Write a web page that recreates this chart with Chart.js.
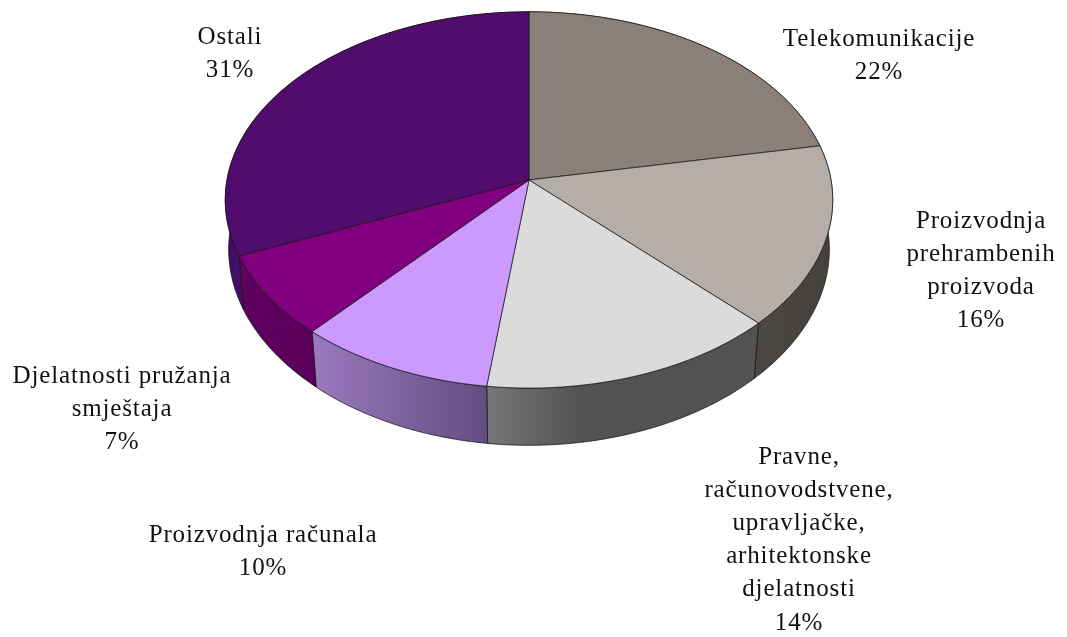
<!DOCTYPE html>
<html><head><meta charset="utf-8">
<script src="https://cdn.jsdelivr.net/npm/chart.js@4/dist/chart.umd.min.js"></script>
<style>html,body{margin:0;padding:0;background:#fff}canvas{display:block}</style>
</head><body><canvas id="c" width="1067" height="637"></canvas>
<script>
const categories = ['Telekomunikacije','Proizvodnja prehrambenih proizvoda','Pravne, računovodstvene, upravljačke, arhitektonske djelatnosti','Proizvodnja računala','Djelatnosti pružanja smještaja','Ostali'];
const values = [22,15.6,14.4,9.5,7.1,31.4];
const labelLines = [['Telekomunikacije'],['Proizvodnja','prehrambenih','proizvoda'],['Pravne,','računovodstvene,','upravljačke,','arhitektonske','djelatnosti'],['Proizvodnja računala'],['Djelatnosti pružanja','smještaja'],['Ostali']];
const topColors = ['#8b7f79','#b5aea8','#dbdbdb','#cc99ff','#800080','#520c6e'];
const wallFrom = ['#6f6660','#4a4743','#767676','#9a7abf','#5f005f','#420f66'];
const wallTo = ['#6f6660','#45413d','#525252','#634d80','#5a005a','#420f66'];
const labelX = [879,981,799,263,122,230];
const labelY = [39,221,457,535,376,37];
const LINE_H = 33.2;
const CX=529, CY=180, A=302, B=186, K=-0.106, FONT='25px "Liberation Serif"', SPACING='0.85px';
function rim(a,bottom){
  const ux=Math.cos(a), uy=Math.sin(a), d=1+K*uy;
  let X=A*ux/d, Y=B*uy/d;
  if(bottom){X*=0.99-0.00006*Math.abs(Y); Y+=51+0.03*Y;}
  return [CX+X,CY+Y];
}
function arcPts(s,e,bottom){
  const n=Math.max(2,Math.ceil((e-s)/0.01)),p=[];
  for(let i=0;i<=n;i++)p.push(rim(s+(e-s)*i/n,bottom));
  return p;
}
const pie3d={id:'pie3d',
  beforeDatasetsDraw(chart){
    const ctx=chart.ctx, arcs=chart.getDatasetMeta(0).data;
    ctx.save(); ctx.lineJoin='round';
    arcs.forEach((el,i)=>{
      const t=arcPts(el.startAngle,el.endAngle,false), b=arcPts(el.startAngle,el.endAngle,true);
      const xs=t.concat(b).map(p=>p[0]), x0=Math.min(...xs), x1=Math.max(...xs);
      const g=ctx.createLinearGradient(x0,0,x1,0);
      g.addColorStop(0,wallFrom[i]);
      g.addColorStop(i===2?0.35:1,wallTo[i]);
      g.addColorStop(1,wallTo[i]);
      ctx.beginPath();
      t.forEach((p,j)=>j?ctx.lineTo(p[0],p[1]):ctx.moveTo(p[0],p[1]));
      b.reverse().forEach(p=>ctx.lineTo(p[0],p[1]));
      ctx.closePath();
      ctx.fillStyle=g; ctx.fill();
      ctx.strokeStyle='rgba(20,20,20,0.75)'; ctx.lineWidth=1; ctx.stroke();
    });
    arcs.forEach((el,i)=>{
      const t=arcPts(el.startAngle,el.endAngle,false);
      ctx.beginPath(); ctx.moveTo(CX,CY);
      t.forEach(p=>ctx.lineTo(p[0],p[1]));
      ctx.closePath();
      ctx.fillStyle=topColors[i]; ctx.fill();
      ctx.strokeStyle='rgba(20,20,20,0.72)'; ctx.lineWidth=1; ctx.stroke();
    });
    ctx.restore();
    return false;
  },
  afterDraw(chart){
    const ctx=chart.ctx;
    ctx.save();
    ctx.font=FONT; ctx.letterSpacing=SPACING; ctx.fillStyle='#111'; ctx.textAlign='center'; ctx.textBaseline='middle';
    labelLines.forEach((lines,i)=>{
      const all=lines.concat([Math.round(values[i])+'%']);
      all.forEach((s,j)=>ctx.fillText(s,labelX[i],labelY[i]+j*LINE_H));
    });
    ctx.restore();
  }
};
new Chart(document.getElementById('c'),{
  type:'pie',
  data:{labels:categories,datasets:[{data:values,backgroundColor:topColors,borderWidth:0}]},
  options:{responsive:false,animation:false,plugins:{legend:{display:false},tooltip:{enabled:false}}},
  plugins:[pie3d]
});
</script></body></html>
